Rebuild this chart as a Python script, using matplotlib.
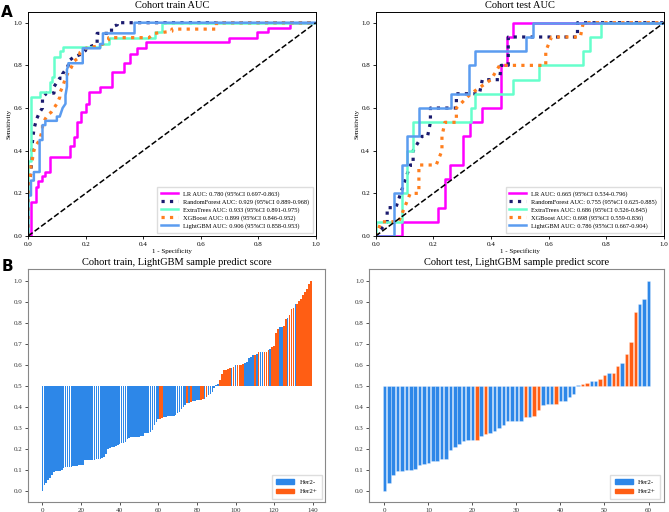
import matplotlib
matplotlib.use("Agg")
import matplotlib.pyplot as plt
from matplotlib.patches import Patch

plt.rcParams['font.family'] = ['Liberation Serif', 'DejaVu Serif']

######### ROC DATA #########
models = ["LR", "RandomForest", "ExtraTrees", "XGBoost", "LightGBM"]
colors = ["#ff00ff", "#1a1a6e", "#66ffcc", "#ff7f1e", "#5b9cf0"]
styles = ["-", ":", "-", ":", "-"]

train_auc = ["0.780 (95%CI 0.697-0.863)", "0.929 (95%CI 0.889-0.968)",
             "0.933 (95%CI 0.891-0.975)", "0.899 (95%CI 0.846-0.952)",
             "0.906 (95%CI 0.858-0.953)"]
test_auc = ["0.665 (95%CI 0.534-0.796)", "0.755 (95%CI 0.625-0.885)",
            "0.686 (95%CI 0.526-0.845)", "0.698 (95%CI 0.559-0.836)",
            "0.786 (95%CI 0.667-0.904)"]

train_lr_fpr = [0, 0.01, 0.01, 0.027, 0.027, 0.035, 0.035, 0.05, 0.05, 0.06, 0.06, 0.075, 0.075,
                0.145, 0.145, 0.16, 0.16, 0.17, 0.17, 0.185, 0.185, 0.2, 0.2, 0.21, 0.21, 0.25, 0.25,
                0.29, 0.29, 0.335, 0.335, 0.355, 0.355, 0.38, 0.38, 0.41, 0.41, 0.70, 0.70, 0.795,
                0.795, 0.835, 0.835, 0.91, 0.91, 1.0]
train_lr_tpr = [0, 0, 0.16, 0.16, 0.23, 0.23, 0.26, 0.26, 0.28, 0.28, 0.30, 0.30, 0.37,
                0.37, 0.42, 0.42, 0.465, 0.465, 0.535, 0.535, 0.58, 0.58, 0.62, 0.62, 0.675, 0.675,
                0.70, 0.70, 0.77, 0.77, 0.81, 0.81, 0.855, 0.855, 0.88, 0.88, 0.91, 0.91, 0.93,
                0.93, 0.955, 0.955, 0.975, 0.975, 1.0, 1.0]

train_rf_fpr = [0, 0, 0.005, 0.01, 0.015, 0.02, 0.03, 0.04, 0.05, 0.05, 0.065, 0.09, 0.09, 0.1,
                0.11, 0.12, 0.12, 0.13, 0.14, 0.14, 0.16, 0.18, 0.2, 0.2, 0.24, 0.24, 0.29, 0.29,
                0.31, 0.31, 0.37, 1.0]
train_rf_tpr = [0, 0.17, 0.25, 0.3, 0.44, 0.5, 0.55, 0.58, 0.6, 0.65, 0.67, 0.67, 0.7, 0.72,
                0.74, 0.74, 0.76, 0.78, 0.8, 0.82, 0.84, 0.85, 0.87, 0.88, 0.9, 0.95, 0.95, 0.98,
                0.99, 1.0, 1.0, 1.0]

train_et_fpr = [0, 0, 0.01, 0.01, 0.04, 0.04, 0.075, 0.075, 0.083, 0.083, 0.09, 0.09, 0.11, 0.11,
                0.12, 0.12, 0.25, 0.25, 0.28, 0.28, 0.44, 0.44, 0.465, 0.465, 1.0]
train_et_tpr = [0, 0.35, 0.35, 0.65, 0.65, 0.675, 0.675, 0.72, 0.72, 0.745, 0.745, 0.84, 0.84, 0.865,
                0.865, 0.886, 0.886, 0.90, 0.90, 0.93, 0.93, 0.955, 0.955, 1.0, 1.0]

train_xgb_fpr = [0, 0, 0.005, 0.01, 0.01, 0.015, 0.02, 0.03, 0.04, 0.05, 0.05, 0.06, 0.07, 0.08,
                 0.09, 0.1, 0.11, 0.11, 0.12, 0.13, 0.14, 0.15, 0.16, 0.18, 0.18, 0.2, 0.24, 0.26,
                 0.28, 0.28, 0.42, 0.44, 0.5, 0.5, 0.655, 0.655, 1.0]
train_xgb_tpr = [0, 0.2, 0.26, 0.3, 0.33, 0.36, 0.4, 0.43, 0.45, 0.5, 0.52, 0.55, 0.57, 0.58,
                 0.6, 0.62, 0.65, 0.67, 0.7, 0.74, 0.77, 0.79, 0.82, 0.84, 0.86, 0.88, 0.89, 0.9,
                 0.92, 0.93, 0.93, 0.95, 0.96, 0.97, 0.97, 1.0, 1.0]

train_lgb_fpr = [0, 0, 0.01, 0.01, 0.02, 0.02, 0.04, 0.04, 0.05, 0.05, 0.06, 0.06, 0.1, 0.1,
                 0.11, 0.12, 0.13, 0.13, 0.135, 0.135, 0.14, 0.14, 0.19, 0.19, 0.25, 0.25, 0.26,
                 0.26, 0.37, 0.37, 1.0]
train_lgb_tpr = [0, 0.19, 0.19, 0.26, 0.26, 0.3, 0.3, 0.45, 0.45, 0.52, 0.52, 0.54, 0.54, 0.56,
                 0.56, 0.6, 0.62, 0.66, 0.7, 0.78, 0.8, 0.81, 0.81, 0.88, 0.88, 0.9, 0.9,
                 0.95, 0.95, 1.0, 1.0]

test_lr_fpr = [0, 0.09, 0.09, 0.217, 0.217, 0.24, 0.24, 0.258, 0.258, 0.304, 0.304, 0.327, 0.327,
               0.368, 0.368, 0.434, 0.434, 0.454, 0.454, 0.477, 0.477, 1.0]
test_lr_tpr = [0, 0, 0.067, 0.067, 0.133, 0.133, 0.267, 0.267, 0.333, 0.333, 0.467, 0.467, 0.533,
               0.533, 0.6, 0.6, 0.8, 0.8, 0.933, 0.933, 1.0, 1.0]

test_rf_fpr = [0, 0.04, 0.04, 0.07, 0.12, 0.13, 0.13, 0.16, 0.18, 0.19, 0.19, 0.28, 0.28, 0.36,
               0.37, 0.41, 0.43, 0.435, 0.46, 0.46, 0.7, 0.7, 1.0]
test_rf_tpr = [0, 0.067, 0.133, 0.133, 0.333, 0.333, 0.4, 0.467, 0.467, 0.533, 0.6, 0.6, 0.667,
               0.667, 0.733, 0.733, 0.733, 0.8, 0.8, 0.933, 0.933, 1.0, 1.0]

test_et_fpr = [0, 0, 0.09, 0.09, 0.11, 0.11, 0.13, 0.13, 0.33, 0.33, 0.345, 0.345, 0.475, 0.475,
               0.565, 0.565, 0.72, 0.72, 0.745, 0.745, 0.78, 0.78, 1.0]
test_et_tpr = [0, 0.067, 0.067, 0.2, 0.2, 0.4, 0.4, 0.533, 0.533, 0.6, 0.6, 0.667, 0.667, 0.733,
               0.733, 0.8, 0.8, 0.867, 0.867, 0.933, 0.933, 1.0, 1.0]

test_xgb_fpr = [0, 0.02, 0.08, 0.1, 0.12, 0.15, 0.15, 0.21, 0.23, 0.23, 0.24, 0.28, 0.28, 0.33,
                0.4, 0.43, 0.59, 0.59, 0.61, 0.71, 0.72, 1.0]
test_xgb_tpr = [0, 0.067, 0.067, 0.133, 0.2, 0.2, 0.333, 0.333, 0.4, 0.467, 0.533, 0.533, 0.6,
                0.667, 0.733, 0.8, 0.8, 0.867, 0.933, 0.933, 1.0, 1.0]

test_lgb_fpr = [0, 0.065, 0.065, 0.09, 0.09, 0.11, 0.11, 0.15, 0.15, 0.26, 0.26, 0.325, 0.325,
                0.345, 0.345, 0.52, 0.52, 0.545, 0.545, 1.0]
test_lgb_tpr = [0, 0, 0.2, 0.2, 0.333, 0.333, 0.467, 0.467, 0.6, 0.6, 0.667, 0.667, 0.8,
                0.8, 0.867, 0.867, 0.933, 0.933, 1.0, 1.0]

train_curves = [(train_lr_fpr, train_lr_tpr), (train_rf_fpr, train_rf_tpr), (train_et_fpr, train_et_tpr),
                (train_xgb_fpr, train_xgb_tpr), (train_lgb_fpr, train_lgb_tpr)]
test_curves = [(test_lr_fpr, test_lr_tpr), (test_rf_fpr, test_rf_tpr), (test_et_fpr, test_et_tpr),
               (test_xgb_fpr, test_xgb_tpr), (test_lgb_fpr, test_lgb_tpr)]

######### SAMPLE SCORE DATA #########
train_score = [0.00, 0.03, 0.04, 0.055, 0.063, 0.08, 0.093, 0.095, 0.095, 0.097,
               0.10, 0.11, 0.117, 0.118, 0.118, 0.118, 0.119, 0.12, 0.121, 0.125,
               0.126, 0.127, 0.148, 0.149, 0.15, 0.15, 0.15, 0.151, 0.152, 0.153,
               0.155, 0.158, 0.165, 0.177, 0.20, 0.205, 0.21, 0.213, 0.218, 0.222,
               0.225, 0.228, 0.23, 0.237, 0.248, 0.255, 0.257, 0.258, 0.258, 0.259,
               0.26, 0.262, 0.265, 0.275, 0.277, 0.278, 0.28, 0.29, 0.315, 0.33,
               0.342, 0.346, 0.348, 0.354, 0.355, 0.356, 0.357, 0.358, 0.36, 0.362,
               0.37, 0.375, 0.39, 0.40, 0.41, 0.418, 0.42, 0.423, 0.428, 0.43,
               0.432, 0.433, 0.435, 0.437, 0.44, 0.45, 0.458, 0.462, 0.474, 0.49,
               0.503, 0.51, 0.53, 0.555, 0.577, 0.578, 0.58, 0.584, 0.587, 0.59,
               0.60, 0.60, 0.601, 0.602, 0.605, 0.608, 0.615, 0.635, 0.638, 0.645,
               0.648, 0.65, 0.66, 0.66, 0.661, 0.662, 0.663, 0.672, 0.675, 0.687,
               0.69, 0.75, 0.77, 0.78, 0.782, 0.785, 0.82, 0.822, 0.837, 0.865,
               0.869, 0.888, 0.89, 0.905, 0.912, 0.93, 0.945, 0.962, 0.985, 1.00]
train_label = [0, 0, 0, 0, 0, 0, 0, 0, 0, 0, 0, 0, 0, 0, 0, 0, 0, 0, 0, 0,
               0, 0, 0, 0, 0, 0, 0, 0, 0, 0, 0, 0, 0, 0, 0, 0, 0, 0, 0, 0,
               0, 0, 0, 0, 0, 0, 0, 0, 0, 0, 0, 0, 0, 0, 0, 0, 0, 0, 0, 0,
               0, 1, 1, 0, 0, 0, 0, 0, 0, 0, 0, 0, 0, 0, 0, 1, 0, 1, 0, 0,
               0, 0, 1, 1, 0, 1, 0, 0, 0, 0, 0, 0, 1, 1, 1, 1, 1, 1, 0, 1,
               0, 1, 1, 1, 1, 0, 0, 0, 0, 0, 1, 0, 1, 0, 0, 1, 1, 1, 0, 1,
               1, 1, 1, 0, 0, 1, 1, 0, 1, 1, 1, 0, 1, 1, 1, 1, 1, 1, 1, 1]

test_score = [0.00, 0.04, 0.078, 0.095, 0.095, 0.103, 0.103, 0.106, 0.125, 0.13,
              0.136, 0.145, 0.145, 0.155, 0.155, 0.197, 0.213, 0.227, 0.24, 0.245,
              0.245, 0.245, 0.264, 0.272, 0.276, 0.289, 0.303, 0.314, 0.332, 0.332,
              0.332, 0.332, 0.354, 0.355, 0.359, 0.387, 0.408, 0.414, 0.415, 0.417,
              0.43, 0.431, 0.447, 0.463, 0.503, 0.509, 0.515, 0.524, 0.526, 0.534,
              0.551, 0.56, 0.564, 0.597, 0.608, 0.651, 0.708, 0.853, 0.889, 0.913,
              1.00]
test_label = [0, 0, 0, 0, 0, 0, 0, 0, 0, 0, 0, 0, 0, 0, 0, 0, 0, 0, 0, 0,
              0, 1, 0, 1, 0, 0, 0, 0, 0, 0, 0, 0, 1, 0, 1, 1, 0, 0, 0, 1,
              0, 0, 0, 0, 0, 1, 1, 0, 0, 1, 1, 0, 1, 1, 0, 1, 1, 1, 0, 0,
              0]

BLUE = "#2d87e8"
ORANGE = "#ff5e14"


def roc_panel(ax, title, curves, aucs):
    for name, color, ls, (fpr, tpr), auc in zip(models, colors, styles, curves, aucs):
        lw = 2.3 if ls == ":" else 1.8
        ax.plot(fpr, tpr, color=color, linestyle=ls, linewidth=lw, label="%s AUC: %s" % (name, auc))
    ax.plot([0, 1], [0, 1], color="black", linestyle="--", linewidth=1.1)
    ax.set_xlim(0, 1)
    ax.set_ylim(0, 1.05)
    ax.set_xticks([0, 0.2, 0.4, 0.6, 0.8, 1.0])
    ax.set_yticks([0, 0.2, 0.4, 0.6, 0.8, 1.0])
    ax.tick_params(labelsize=5, length=2.5, width=0.6, pad=1.5)
    ax.set_title(title, fontsize=7.5, pad=3)
    ax.set_xlabel("1 - Specificity", fontsize=5, labelpad=1.5)
    ax.set_ylabel("Sensitivity", fontsize=5, labelpad=1.5)
    for s in ax.spines.values():
        s.set_linewidth(0.7)
    ax.legend(loc="lower right", fontsize=4.6, handlelength=2.6, labelspacing=0.35,
              borderpad=0.6, framealpha=1, edgecolor="#dddddd", fancybox=False)


def score_panel(ax, title, score, label, width, edge_lw):
    x = list(range(len(score)))
    cols = [ORANGE if l == 1 else BLUE for l in label]
    heights = [s - 0.5 for s in score]
    ax.bar(x, heights, bottom=0.5, width=width, color=cols,
           edgecolor=(1, 1, 1, 0.45), linewidth=edge_lw)
    ax.set_yticks([0, 0.1, 0.2, 0.3, 0.4, 0.5, 0.6, 0.7, 0.8, 0.9, 1.0])
    ax.set_ylim(-0.05, 1.055)
    ax.tick_params(labelsize=5, length=2.5, width=0.6, pad=1.5, colors="#333333")
    ax.set_title(title, fontsize=7.5, pad=3)
    for s in ax.spines.values():
        s.set_linewidth(0.8)
        s.set_color("#888888")
    handles = [Patch(color=BLUE, label="Her2-"), Patch(color=ORANGE, label="Her2+")]
    ax.legend(handles=handles, loc="lower right", fontsize=5, handlelength=2.6,
              borderpad=0.6, framealpha=1, edgecolor="#dddddd", fancybox=False)


fig = plt.figure(figsize=(6.69, 5.12), dpi=100)

ax1 = fig.add_axes([0.042, 0.539, 0.430, 0.4375])
roc_panel(ax1, "Cohort train AUC", train_curves, train_auc)

ax2 = fig.add_axes([0.5615, 0.539, 0.431, 0.4375])
roc_panel(ax2, "Cohort test AUC", test_curves, test_auc)

ax3 = fig.add_axes([0.042, 0.0195, 0.444, 0.455])
score_panel(ax3, "Cohort train, LightGBM sample predict score", train_score, train_label, 0.85, 0)

ax4 = fig.add_axes([0.552, 0.0195, 0.440, 0.455])
score_panel(ax4, "Cohort test, LightGBM sample predict score", test_score, test_label, 0.8, 0.4)

fig.text(0.002, 0.975, "A", fontsize=11, fontweight="bold", family="DejaVu Sans", va="center")
fig.text(0.002, 0.48, "B", fontsize=11, fontweight="bold", family="DejaVu Sans", va="center")

fig.savefig("out.png", dpi=100)
